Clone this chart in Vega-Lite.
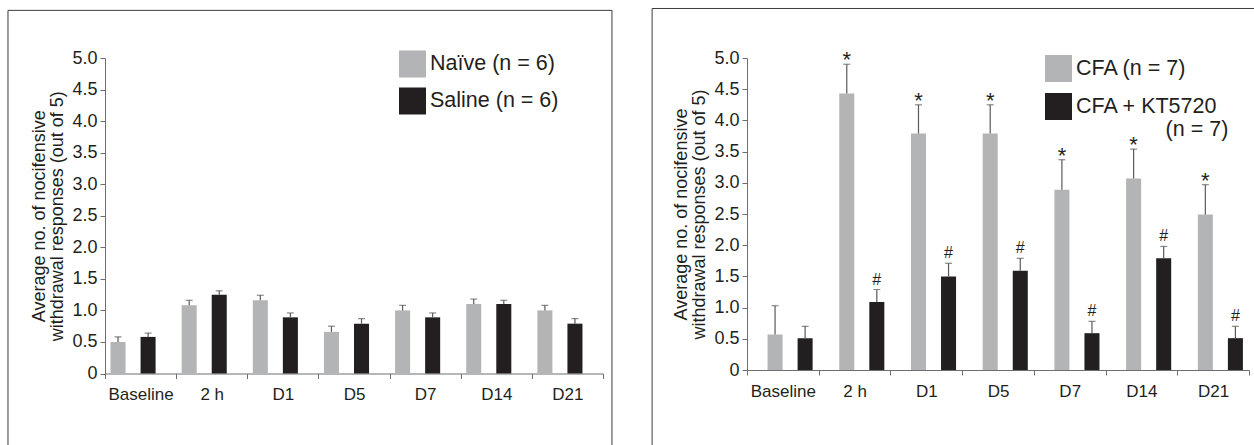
{
  "$schema": "https://vega.github.io/schema/vega-lite/v6.json",
  "padding": {"left": 7, "top": 7, "right": 0, "bottom": 0},
  "background": "white",
  "config": {
    "font": "Liberation Sans",
    "view": {"stroke": null},
    "axis": {
      "labelFont": "Liberation Sans", "labelFontSize": 17, "labelColor": "#231f20",
      "titleFont": "Liberation Sans", "titleFontSize": 18, "titleFontWeight": "normal", "titleColor": "#231f20",
      "domainColor": "#6d6e71", "tickColor": "#6d6e71", "tickSize": 5, "grid": false
    },
    "axisY": {"labelFontSize": 18, "labelPadding": 3, "titlePadding": 5, "titleLineHeight": 18},
    "legend": {
      "title": null, "orient": "none", "symbolType": "square", "symbolSize": 729, "symbolStrokeWidth": 0,
      "symbolOpacity": 1, "labelFontSize": 21.5, "labelFont": "Liberation Sans", "labelColor": "#231f20",
      "labelOffset": 4, "rowPadding": 10, "padding": 0
    },
    "concat": {"spacing": 38}
  },
  "datasets": {
    "left": [
      {"time": "Baseline", "group": "Naïve (n = 6)", "value": 0.50, "err": 0.58},
      {"time": "Baseline", "group": "Saline (n = 6)", "value": 0.58, "err": 0.64},
      {"time": "2 h", "group": "Naïve (n = 6)", "value": 1.08, "err": 1.16},
      {"time": "2 h", "group": "Saline (n = 6)", "value": 1.25, "err": 1.31},
      {"time": "D1", "group": "Naïve (n = 6)", "value": 1.16, "err": 1.24},
      {"time": "D1", "group": "Saline (n = 6)", "value": 0.89, "err": 0.96},
      {"time": "D5", "group": "Naïve (n = 6)", "value": 0.66, "err": 0.75},
      {"time": "D5", "group": "Saline (n = 6)", "value": 0.79, "err": 0.87},
      {"time": "D7", "group": "Naïve (n = 6)", "value": 1.00, "err": 1.08},
      {"time": "D7", "group": "Saline (n = 6)", "value": 0.89, "err": 0.96},
      {"time": "D14", "group": "Naïve (n = 6)", "value": 1.10, "err": 1.18},
      {"time": "D14", "group": "Saline (n = 6)", "value": 1.10, "err": 1.16},
      {"time": "D21", "group": "Naïve (n = 6)", "value": 1.00, "err": 1.08},
      {"time": "D21", "group": "Saline (n = 6)", "value": 0.79, "err": 0.87}
    ],
    "right": [
      {"time": "Baseline", "group": "CFA (n = 7)", "value": 0.57, "err": 1.03, "sig": ""},
      {"time": "Baseline", "group": "CFA + KT5720 (n = 7)", "value": 0.51, "err": 0.70, "sig": ""},
      {"time": "2 h", "group": "CFA (n = 7)", "value": 4.43, "err": 4.90, "sig": "*"},
      {"time": "2 h", "group": "CFA + KT5720 (n = 7)", "value": 1.09, "err": 1.29, "sig": "#"},
      {"time": "D1", "group": "CFA (n = 7)", "value": 3.79, "err": 4.25, "sig": "*"},
      {"time": "D1", "group": "CFA + KT5720 (n = 7)", "value": 1.50, "err": 1.71, "sig": "#"},
      {"time": "D5", "group": "CFA (n = 7)", "value": 3.79, "err": 4.25, "sig": "*"},
      {"time": "D5", "group": "CFA + KT5720 (n = 7)", "value": 1.59, "err": 1.79, "sig": "#"},
      {"time": "D7", "group": "CFA (n = 7)", "value": 2.89, "err": 3.37, "sig": "*"},
      {"time": "D7", "group": "CFA + KT5720 (n = 7)", "value": 0.59, "err": 0.78, "sig": "#"},
      {"time": "D14", "group": "CFA (n = 7)", "value": 3.07, "err": 3.54, "sig": "*"},
      {"time": "D14", "group": "CFA + KT5720 (n = 7)", "value": 1.79, "err": 1.98, "sig": "#"},
      {"time": "D21", "group": "CFA (n = 7)", "value": 2.49, "err": 2.97, "sig": "*"},
      {"time": "D21", "group": "CFA + KT5720 (n = 7)", "value": 0.51, "err": 0.70, "sig": "#"}
    ],
    "frameLeft": [{"x0": -0.1948, "x1": 1.018, "y0": -0.35, "y1": 1.151}],
    "frameRight": [{"x0": -0.189, "x1": 1.03, "y0": -0.35, "y1": 1.1587}]
  },
  "hconcat": [
    {
      "width": 498, "height": 315.5,
      "layer": [
        {
          "data": {"name": "frameLeft"},
          "mark": {"type": "rect", "fill": "transparent", "stroke": "#3d3d3d", "strokeWidth": 1, "clip": false},
          "encoding": {
            "x": {"field": "x0", "type": "quantitative", "scale": {"domain": [0, 1], "nice": false, "zero": false}, "axis": null},
            "x2": {"field": "x1"},
            "y": {"field": "y0", "type": "quantitative", "scale": {"domain": [0, 1], "nice": false, "zero": false}, "axis": null},
            "y2": {"field": "y1"}
          }
        },
        {
          "data": {"name": "left"},
          "encoding": {
            "x": {"field": "time", "type": "nominal", "sort": ["Baseline", "2 h", "D1", "D5", "D7", "D14", "D21"],
                  "scale": {"paddingInner": 0, "paddingOuter": 0},
                  "axis": {"title": null, "labelAngle": 0, "tickBand": "extent", "labelPadding": 8}},
            "xOffset": {"field": "group", "type": "nominal", "sort": ["Naïve (n = 6)", "Saline (n = 6)"],
                        "scale": {"paddingInner": 0, "paddingOuter": 0.367}}
          },
          "layer": [
            {
              "mark": {"type": "bar"},
              "encoding": {
                "y": {"field": "value", "type": "quantitative", "scale": {"domain": [0, 5], "nice": false},
                      "title": ["Average no. of nocifensive", "withdrawal responses (out of 5)"],
                      "axis": {"values": [0, 0.5, 1, 1.5, 2, 2.5, 3, 3.5, 4, 4.5, 5], "labelExpr": "datum.value === 0 ? '0' : format(datum.value, '.1f')", "labelOverlap": false}},
                "color": {"field": "group", "type": "nominal",
                          "scale": {"domain": ["Naïve (n = 6)", "Saline (n = 6)"], "range": ["#b3b4b6", "#231f20"]},
                          "legend": {"legendX": 294, "legendY": -7.5, "rowPadding": 10}}
              }
            },
            {
              "mark": {"type": "rule", "color": "#58595b", "strokeWidth": 1.2},
              "encoding": {
                "y": {"field": "value", "type": "quantitative", "scale": {"domain": [0, 5], "nice": false},
                      "title": ["Average no. of nocifensive", "withdrawal responses (out of 5)"],
                      "axis": {"values": [0, 0.5, 1, 1.5, 2, 2.5, 3, 3.5, 4, 4.5, 5], "labelExpr": "datum.value === 0 ? '0' : format(datum.value, '.1f')", "labelOverlap": false}},
                "y2": {"field": "err"}
              }
            },
            {
              "mark": {"type": "tick", "orient": "horizontal", "color": "#58595b", "thickness": 1.2, "size": 7},
              "encoding": {
                "y": {"field": "err", "type": "quantitative", "scale": {"domain": [0, 5], "nice": false},
                      "title": ["Average no. of nocifensive", "withdrawal responses (out of 5)"],
                      "axis": {"values": [0, 0.5, 1, 1.5, 2, 2.5, 3, 3.5, 4, 4.5, 5], "labelExpr": "datum.value === 0 ? '0' : format(datum.value, '.1f')", "labelOverlap": false}}
              }
            }
          ]
        }
      ],
      "resolve": {"scale": {"x": "independent", "y": "independent"}}
    },
    {
      "width": 502, "height": 312,
      "layer": [
        {
          "data": {"name": "frameRight"},
          "mark": {"type": "rect", "fill": "transparent", "stroke": "#3d3d3d", "strokeWidth": 1, "clip": false},
          "encoding": {
            "x": {"field": "x0", "type": "quantitative", "scale": {"domain": [0, 1], "nice": false, "zero": false}, "axis": null},
            "x2": {"field": "x1"},
            "y": {"field": "y0", "type": "quantitative", "scale": {"domain": [0, 1], "nice": false, "zero": false}, "axis": null},
            "y2": {"field": "y1"}
          }
        },
        {
          "data": {"name": "right"},
          "encoding": {
            "x": {"field": "time", "type": "nominal", "sort": ["Baseline", "2 h", "D1", "D5", "D7", "D14", "D21"],
                  "scale": {"paddingInner": 0, "paddingOuter": 0},
                  "axis": {"title": null, "labelAngle": 0, "tickBand": "extent", "labelPadding": 8}},
            "xOffset": {"field": "group", "type": "nominal", "sort": ["CFA (n = 7)", "CFA + KT5720 (n = 7)"],
                        "scale": {"paddingInner": 0, "paddingOuter": 0.367}}
          },
          "layer": [
            {
              "mark": {"type": "bar"},
              "encoding": {
                "y": {"field": "value", "type": "quantitative", "scale": {"domain": [0, 5], "nice": false},
                      "title": ["Average no. of nocifensive", "withdrawal responses (out of 5)"],
                      "axis": {"values": [0, 0.5, 1, 1.5, 2, 2.5, 3, 3.5, 4, 4.5, 5], "labelExpr": "datum.value === 0 ? '0' : format(datum.value, '.1f')", "labelOverlap": false}},
                "color": {"field": "group", "type": "nominal",
                          "scale": {"domain": ["CFA (n = 7)", "CFA + KT5720 (n = 7)"], "range": ["#b3b4b6", "#231f20"]},
                          "legend": {"legendX": 298, "legendY": -3, "rowPadding": 11,
                                     "labelExpr": "datum.label == 'CFA + KT5720 (n = 7)' ? ['CFA + KT5720', '\u200b\u00a0\u00a0\u00a0\u00a0\u00a0\u00a0\u00a0\u00a0\u00a0\u00a0\u00a0\u00a0\u00a0\u00a0\u00a0(n = 7)'] : datum.label"}}
              }
            },
            {
              "mark": {"type": "rule", "color": "#58595b", "strokeWidth": 1.2},
              "encoding": {
                "y": {"field": "value", "type": "quantitative", "scale": {"domain": [0, 5], "nice": false},
                      "title": ["Average no. of nocifensive", "withdrawal responses (out of 5)"],
                      "axis": {"values": [0, 0.5, 1, 1.5, 2, 2.5, 3, 3.5, 4, 4.5, 5], "labelExpr": "datum.value === 0 ? '0' : format(datum.value, '.1f')", "labelOverlap": false}},
                "y2": {"field": "err"}
              }
            },
            {
              "mark": {"type": "tick", "orient": "horizontal", "color": "#58595b", "thickness": 1.2, "size": 7},
              "encoding": {
                "y": {"field": "err", "type": "quantitative", "scale": {"domain": [0, 5], "nice": false},
                      "title": ["Average no. of nocifensive", "withdrawal responses (out of 5)"],
                      "axis": {"values": [0, 0.5, 1, 1.5, 2, 2.5, 3, 3.5, 4, 4.5, 5], "labelExpr": "datum.value === 0 ? '0' : format(datum.value, '.1f')", "labelOverlap": false}}
              }
            },
            {
              "transform": [{"filter": "datum.sig == '*'"}],
              "mark": {"type": "text", "baseline": "alphabetic", "dy": 3, "fontSize": 22, "color": "#231f20", "font": "Liberation Sans"},
              "encoding": {
                "y": {"field": "err", "type": "quantitative", "scale": {"domain": [0, 5], "nice": false},
                      "title": ["Average no. of nocifensive", "withdrawal responses (out of 5)"],
                      "axis": {"values": [0, 0.5, 1, 1.5, 2, 2.5, 3, 3.5, 4, 4.5, 5], "labelExpr": "datum.value === 0 ? '0' : format(datum.value, '.1f')", "labelOverlap": false}},
                "text": {"field": "sig"}
              }
            },
            {
              "transform": [{"filter": "datum.sig == '#'"}],
              "mark": {"type": "text", "baseline": "alphabetic", "dy": -5, "fontSize": 16, "color": "#231f20", "font": "Liberation Sans"},
              "encoding": {
                "y": {"field": "err", "type": "quantitative", "scale": {"domain": [0, 5], "nice": false},
                      "title": ["Average no. of nocifensive", "withdrawal responses (out of 5)"],
                      "axis": {"values": [0, 0.5, 1, 1.5, 2, 2.5, 3, 3.5, 4, 4.5, 5], "labelExpr": "datum.value === 0 ? '0' : format(datum.value, '.1f')", "labelOverlap": false}},
                "text": {"field": "sig"}
              }
            }
          ]
        }
      ],
      "resolve": {"scale": {"x": "independent", "y": "independent"}}
    }
  ],
  "resolve": {"scale": {"color": "independent"}, "legend": {"color": "independent"}}
}
